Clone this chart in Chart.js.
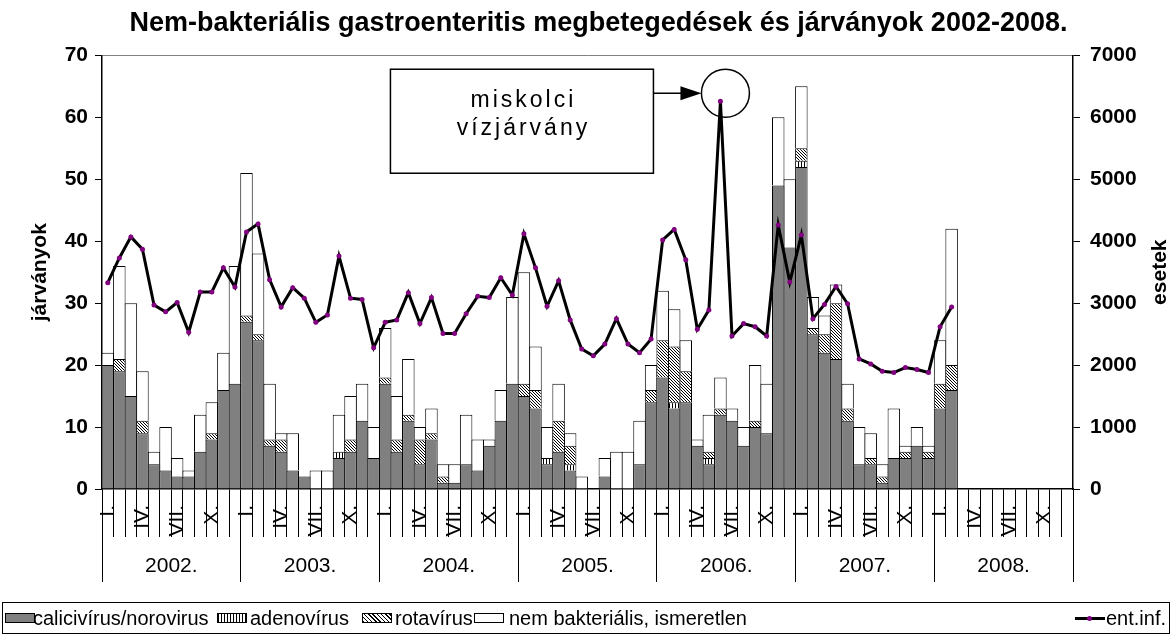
<!DOCTYPE html>
<html><head><meta charset="utf-8">
<script src="https://cdn.jsdelivr.net/npm/chart.js@4.4.1/dist/chart.umd.min.js"></script>
<style>
html,body{margin:0;padding:0;background:#fff;}
#wrap{position:relative;width:1173px;height:637px;}
canvas{position:absolute;left:0;top:0;}
#legend{position:absolute;left:2px;top:602px;width:1166px;height:30px;border:1px solid #000;font:20px "Liberation Sans",Arial,sans-serif;color:#000;}
.it{position:absolute;top:0;height:30px;line-height:30px;white-space:nowrap;}
.sw{position:absolute;top:10px;width:30px;height:10px;border:1px solid #000;box-sizing:border-box;}
</style></head><body>
<div id="wrap"><canvas id="c" width="1173" height="637"></canvas>
<div id="legend">
  <div class="sw" style="left:2px;background:#808080"></div><span class="it" style="left:30px">calicivírus/norovirus</span>
  <div class="sw" style="left:214px;background:repeating-linear-gradient(90deg,#000 0 1px,#fff 1px 3px)"></div><span class="it" style="left:247px">adenovírus</span>
  <div class="sw" style="left:359px;background:repeating-linear-gradient(45deg,#000 0 1px,#fff 1px 3px)"></div><span class="it" style="left:392px">rotavírus</span>
  <div class="sw" style="left:471px;background:#fff"></div><span class="it" style="left:506px">nem bakteriális, ismeretlen</span>
  <div style="position:absolute;left:1072px;top:14px;width:30px;height:3px;background:#000"></div>
  <div style="position:absolute;left:1084px;top:13px;width:5px;height:5px;border-radius:50%;background:#800080"></div>
  <span class="it" style="right:3px">ent.inf.</span>
</div></div>
<script>
const years = ['2002.','2003.','2004.','2005.','2006.','2007.','2008.'];
const monthTicks = ['I.','','','IV.','','','VII.','','','X.','',''];
const seriesNames = ['calicivírus/norovirus','adenovírus','rotavírus','nem bakteriális, ismeretlen','ent.inf.'];
const annotationText = ['miskolci','vízjárvány'];
const chartTitle = 'Nem-bakteriális gastroenteritis megbetegedések és járványok 2002-2008.';

const calici = [
  20,19,15,9,4,3,2,2,6,8,16,17,
  27,24,7,6,3,2,0,0,5,6,11,5,
  17,6,11,4,8,1,1,4,3,7,11,17,
  15,13,4,6,3,0,0,2,0,0,4,14,
  18,13,14,7,4,12,11,7,10,9,49,39,
  52,25,22,21,11,4,4,1,5,5,7,5,
  13,16];
const adeno = [
  0,0,0,0,0,0,0,0,0,0,0,0,
  0,0,0,0,0,0,0,0,1,0,0,0,
  0,0,0,0,0,0,0,0,0,0,0,0,
  0,0,1,0,1,0,0,0,0,0,0,0,
  0,1,0,0,1,0,0,0,0,0,0,0,
  1,0,0,0,0,0,0,0,0,0,0,0,
  0,0];
const rota = [
  0,2,0,2,0,0,0,0,0,1,0,0,
  1,1,1,2,0,0,0,0,0,2,0,0,
  1,2,1,4,1,1,0,0,0,0,0,0,
  2,3,0,5,3,0,0,0,0,0,0,2,
  6,9,5,0,1,1,0,0,1,0,0,0,
  2,1,3,9,2,0,1,1,0,1,0,1,
  4,4];
const unknown = [
  2,15,15,8,2,7,3,1,6,5,6,19,
  23,13,9,1,6,0,3,3,6,7,6,5,
  8,7,9,2,4,2,3,8,5,1,5,14,
  18,7,5,6,2,2,0,3,6,6,7,4,
  8,6,5,1,6,5,2,3,9,8,11,11,
  10,5,3,3,4,6,4,2,8,1,3,1,
  7,22];
const entInf = [
  3330,3730,4070,3870,2970,2860,3010,2530,3180,3180,3570,3260,
  4150,4280,3380,2940,3250,3080,2690,2810,3760,3080,3060,2280,
  2690,2730,3170,2670,3090,2510,2510,2830,3110,3090,3410,3130,
  4120,3570,2950,3360,2730,2260,2150,2340,2750,2340,2200,2420,
  4020,4190,3700,2580,2890,6260,2470,2670,2620,2470,4260,3340,
  4100,2750,2980,3270,2990,2100,2020,1900,1880,1960,1930,1880,
  2620,2940];

const categories = [];
years.forEach(y => monthTicks.forEach((m, k) => categories.push(y + (k + 1))));
const nz = a => a.map(v => v === 0 ? null : v);

const FONT = '"Liberation Sans", Arial, sans-serif';
Chart.defaults.font.family = FONT;
Chart.defaults.color = '#000';

function makePattern(w, h, draw) {
  const c = document.createElement('canvas'); c.width = w; c.height = h;
  const g = c.getContext('2d'); g.fillStyle = '#fff'; g.fillRect(0, 0, w, h);
  g.fillStyle = '#000'; draw(g);
  return document.getElementById('c').getContext('2d').createPattern(c, 'repeat');
}
const adenoPat = makePattern(3, 3, g => g.fillRect(0, 0, 1, 3));
const rotaPat = makePattern(3, 3, g => { for (let i = 0; i < 3; i++) g.fillRect(i, i, 1, 1); });

const barCommon = {type:'bar', xAxisID:'x', yAxisID:'y', stack:'s', borderColor:'#000', borderWidth:1,
  categoryPercentage:1, barPercentage:1.08, order:1};

const annotPlugin = {
  id:'annot',
  afterDraw(chart) {
    const c = chart.ctx, xs = chart.scales.x, ys = chart.scales.y2;
    const peak = entInf.indexOf(Math.max(...entInf));
    const px = xs.getPixelForValue(peak), py = ys.getPixelForValue(entInf[peak]);
    const cx = px + 5, cy = py - 8, r = 24;
    const bRight = cx - r - 48, bLeft = bRight - 263, bTop = cy - 24, bH = 104;
    c.save();
    c.lineWidth = 1.5; c.strokeStyle = '#000';
    c.fillStyle = '#fff'; c.fillRect(bLeft, bTop, bRight - bLeft, bH);
    c.strokeRect(bLeft, bTop, bRight - bLeft, bH);
    c.fillStyle = '#000';
    c.font = '23px ' + FONT; c.textAlign = 'center'; c.textBaseline = 'alphabetic';
    try { c.letterSpacing = '3px'; } catch(e) {}
    const mx = (bLeft + bRight) / 2 + 1.5;
    c.fillText(annotationText[0], mx, bTop + 37.5);
    c.fillText(annotationText[1], mx, bTop + 66);
    try { c.letterSpacing = '0px'; } catch(e) {}
    c.beginPath(); c.moveTo(bRight, cy); c.lineTo(cx - r - 20, cy); c.stroke();
    c.beginPath(); c.moveTo(cx - r - 21, cy - 7); c.lineTo(cx - r, cy); c.lineTo(cx - r - 21, cy + 7); c.closePath(); c.fill();
    c.beginPath(); c.arc(cx, cy, r, 0, Math.PI * 2); c.stroke();
    // right axis title
    const s = chart.scales.y2;
    c.translate(s.right - 13, (chart.chartArea.top + chart.chartArea.bottom) / 2);
    c.rotate(-Math.PI / 2);
    c.font = 'bold 21px ' + FONT; c.textAlign = 'center'; c.textBaseline = 'middle';
    c.fillText('esetek', 0, 0);
    c.restore();
  }
};

new Chart(document.getElementById('c'), {
  data: {
    labels: categories,
    datasets: [
      {type:'line', label: seriesNames[4], data: entInf, xAxisID:'x', yAxisID:'y2', borderColor:'#000', borderWidth:3,
        pointRadius:2.5, pointBackgroundColor:'#800080', pointBorderColor:'#800080', pointBorderWidth:0,
        tension:0, fill:false, order:0},
      Object.assign({label: seriesNames[0], data: nz(calici), backgroundColor:'#808080'}, barCommon),
      Object.assign({label: seriesNames[1], data: nz(adeno), backgroundColor: adenoPat}, barCommon),
      Object.assign({label: seriesNames[2], data: nz(rota), backgroundColor: rotaPat}, barCommon),
      Object.assign({label: seriesNames[3], data: nz(unknown), backgroundColor:'#fff'}, barCommon)
    ]
  },
  options: {
    responsive:false, animation:false, devicePixelRatio:1,
    layout:{padding:{left:24, right:0, top:0, bottom:55}},
    plugins:{
      legend:{display:false}, tooltip:{enabled:false},
      title:{display:true, text: chartTitle, font:{size:27, weight:'bold'}, color:'#000', padding:{top:7, bottom:16}}
    },
    scales:{
      x:{type:'category', position:'bottom', stacked:true, offset:true,
        grid:{offset:true, drawOnChartArea:false, tickLength:48, color:'#000', lineWidth:1},
        border:{color:'#000', width:1.5},
        ticks:{autoSkip:false, minRotation:90, maxRotation:90, padding:-32, font:{size:21},
          callback:(v, i) => monthTicks[i % 12]},
        afterFit: s => { s.height = 48; }
      },
      x2:{type:'linear', position:'bottom', min:-0.5, max: years.length * 12 - 0.5, bounds:'data', offset:false,
        grid:{drawOnChartArea:false, tickLength:45, lineWidth:1,
          color: ctx => { const v = ctx.tick ? ctx.tick.value : 0; return Number.isInteger((v + 0.5) / 12) ? '#000' : 'rgba(0,0,0,0)'; }},
        border:{display:false},
        afterBuildTicks: s => {
          const t = [];
          years.forEach((y, k) => { t.push({value: k * 12 - 0.5}); t.push({value: k * 12 + 5.5}); });
          t.push({value: years.length * 12 - 0.5});
          s.ticks = t;
        },
        ticks:{autoSkip:false, maxRotation:0, minRotation:0, padding:-28, font:{size:21},
          callback: v => { const k = (v - 5.5) / 12; return Number.isInteger(k) ? years[k] : ''; }},
        afterFit: s => { s.height = 45; }
      },
      y:{type:'linear', position:'left', stacked:true, min:0, max:70,
        ticks:{stepSize:10, font:{size:21, weight:'bold'}, padding:7},
        grid:{drawOnChartArea:true, tickLength:7, tickColor:'#000',
          color: ctx => (ctx.tick && ctx.tick.value === 70) ? '#808080' : 'rgba(0,0,0,0)'},
        border:{color:'#000', width:1.5},
        title:{display:true, text:'járványok', font:{size:21, weight:'bold'}, padding:{top:3.4, bottom:0}},
        afterFit: s => { s.width = 78; }
      },
      y2:{type:'linear', position:'right', min:0, max:7000,
        ticks:{stepSize:1000, font:{size:21, weight:'bold'}, padding:10, callback: v => String(v)},
        grid:{drawOnChartArea:false, tickLength:7, color:'#000'},
        border:{color:'#000', width:1.5},
        afterFit: s => { s.width = 100; }
      }
    }
  },
  plugins:[annotPlugin]
});
</script>
</body></html>
